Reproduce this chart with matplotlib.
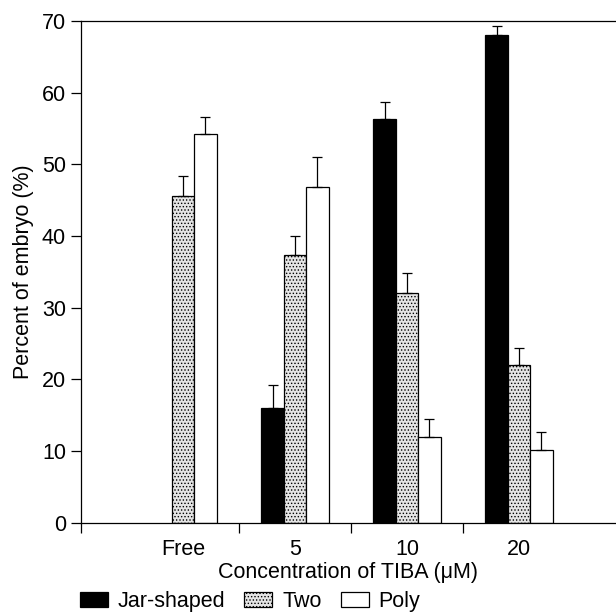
import numpy as np
import matplotlib
matplotlib.use("Agg")
import matplotlib.pyplot as plt
from matplotlib.patches import Patch

plt.rcParams['font.family'] = ['Liberation Sans', 'DejaVu Sans']
plt.rcParams['hatch.linewidth'] = 0.6
plt.rcParams['hatch.color'] = '#333333'

# data
groups = ["Free", "5", "10", "20"]
jar = [np.nan, 16.0, 56.3, 68.0]
jar_err = [np.nan, 3.15, 2.4, 1.3]
two = [45.6, 37.3, 32.0, 22.0]
two_err = [2.8, 2.65, 2.85, 2.35]
poly = [54.2, 46.8, 12.0, 10.2]
poly_err = [2.4, 4.2, 2.5, 2.5]

fs = 15.5

fig = plt.figure(figsize=(6.16, 6.16), dpi=100)
ax = fig.add_axes([0.131, 0.1515, 0.869, 0.8145])

x = np.arange(len(groups))
w = 0.2
series = [
    (jar, jar_err, -w, dict(facecolor='black', edgecolor='black'), "Jar-shaped"),
    (two, two_err, 0, dict(facecolor='#e4e4e4', edgecolor='black', hatch='.....'), "Two"),
    (poly, poly_err, w, dict(facecolor='white', edgecolor='black'), "Poly"),
]
handles = []
for vals, errs, off, style, lab in series:
    vals = np.array(vals)
    errs = np.array(errs)
    ax.bar(x + off, vals, width=w, linewidth=0.9, **style)
    ok = ~np.isnan(vals)
    ax.errorbar(x[ok] + off, vals[ok], yerr=[np.zeros(ok.sum()), errs[ok]],
                fmt='none', ecolor='black', elinewidth=0.9, capsize=3.3, capthick=0.9)
    handles.append(Patch(label=lab, linewidth=0.9, **style))

xmin, xmax = -0.913, 3.866
ax.set_xlim(xmin, xmax)
ax.set_ylim(0, 70)
ax.set_yticks(range(0, 71, 10))
ax.set_xticks([xmin, 0.5, 1.5, 2.5])
ax.set_xticklabels([])
ax.set_xticks(x, minor=True)
ax.set_xticklabels(groups, minor=True)
ax.tick_params(axis='x', which='minor', length=0, pad=12, labelsize=fs)
ax.tick_params(axis='x', which='major', length=7.5, width=0.9, direction='out')
ax.tick_params(axis='y', length=7.5, width=0.9, direction='out', labelsize=fs, pad=3)
ax.spines['right'].set_visible(False)
for s in ['left', 'top', 'bottom']:
    ax.spines[s].set_linewidth(0.9)

ax.set_xlabel("Concentration of TIBA (\u03bcM)", fontsize=fs, labelpad=1)
ax.set_ylabel("Percent of embryo (%)", fontsize=fs, labelpad=6)

fig.legend(handles=handles, loc='center left', bbox_to_anchor=(0.112, 0.024),
           ncol=3, frameon=False, fontsize=fs, handlelength=1.3, handleheight=0.7,
           handletextpad=0.45, columnspacing=0.9, borderpad=0)

fig.savefig("out.png", dpi=100)
